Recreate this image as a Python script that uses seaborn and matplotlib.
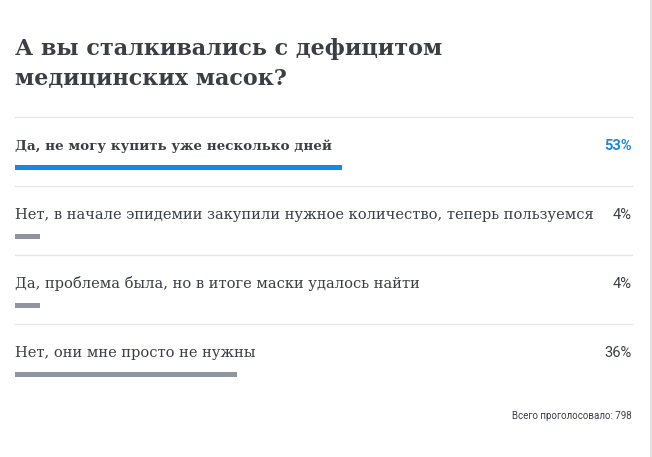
import matplotlib
matplotlib.use("Agg")
import matplotlib.pyplot as plt
import seaborn as sns
import pandas as pd

title_lines = ["А вы сталкивались с дефицитом", "медицинских масок?"]
options = [
    "Да, не могу купить уже несколько дней",
    "Нет, в начале эпидемии закупили нужное количество, теперь пользуемся",
    "Да, проблема была, но в итоге маски удалось найти",
    "Нет, они мне просто не нужны",
]
percents = [53, 4, 4, 36]
highlight = [True, False, False, False]
footer_text = "Всего проголосовало: 798"

BLUE = "#1a87e0"
GRAY = "#8f959e"
TEXT = "#3a3e46"
SEP = "#e6e6e6"

sns.set_theme(style="white")
plt.rcParams['font.family'] = ['DejaVu Serif']

W, H = 652, 457
fig = plt.figure(figsize=(W / 100, H / 100), dpi=100)
fig.patch.set_facecolor("white")

# background axes in pixel coordinates
bg = fig.add_axes([0, 0, 1, 1])
bg.set_xlim(0, W)
bg.set_ylim(H, 0)
bg.axis("off")
bg.axvline(650.5, color="#d9d9d9", lw=1.2)

bg.text(15, 55, title_lines[0], fontsize=16, fontweight="bold", color=TEXT, va="baseline")
bg.text(15, 85, title_lines[1], fontsize=16, fontweight="bold", color=TEXT, va="baseline")
bg.text(632, 419, footer_text, fontsize=7, family=["Roboto", "DejaVu Sans"], color=TEXT,
        ha="right", va="baseline")

# bar axes
left, right = 15, 632
top, bottom = 117, 393
row_h = 69.0
ax = fig.add_axes([left / W, 1 - bottom / H, (right - left) / W, (bottom - top) / H])
df = pd.DataFrame({"option": options, "pct": percents})
palette = [BLUE if h else GRAY for h in highlight]
sns.barplot(data=df, x="pct", y="option", hue="option", palette=palette, orient="h",
            width=5.5 / row_h, ax=ax, legend=False, saturation=1, linewidth=0)
off = 50.5 / row_h
ax.set_xlim(0, 100)
ax.set_ylim(len(options) - off, -off)
ax.axis("off")

base = 17.5 / row_h
for i, (opt, p, h) in enumerate(zip(options, percents, highlight)):
    ax.axhline(i - off, color=SEP, lw=1, clip_on=False)
    ax.text(0, i - base, opt, fontsize=9.7 if h else 10.5,
            fontweight="bold" if h else "normal",
            color=TEXT, va="baseline", ha="left")
    ax.text(100, i - base, f"{p}%", fontsize=10.5, fontweight="bold" if h else "normal",
            family=["Roboto", "DejaVu Sans"], color=BLUE if h else TEXT,
            va="baseline", ha="right")

fig.savefig("out.png", dpi=100)
